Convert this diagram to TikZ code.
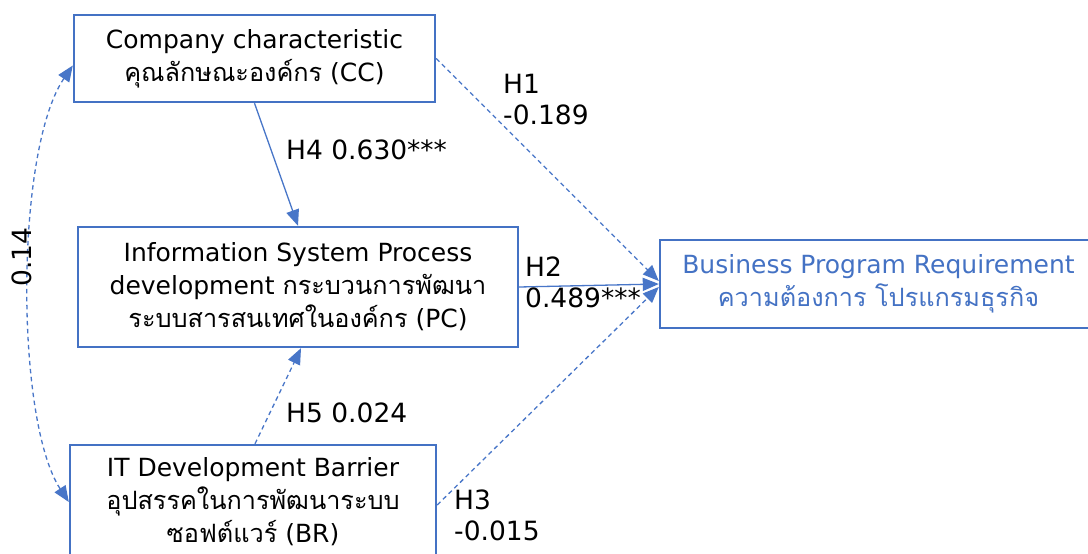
\documentclass[tikz,border=0pt]{standalone}
\usepackage{fontspec}
\setmainfont{DejaVu Sans}
\newfontfamily\thaifont[Script=Thai,Scale=1.01]{Loma}
\usetikzlibrary{arrows.meta}
\definecolor{boxblue}{RGB}{68,114,196}
\definecolor{lineblue}{RGB}{72,118,200}

\begin{document}
\begin{tikzpicture}[x=1pt,y=-1pt,
  >={Triangle[length=16pt,width=13pt]},
  construct/.style={draw=boxblue, line width=2.4pt, fill=white, inner sep=0pt,
    align=center, font=\fontsize{25}{33}\selectfont},
  link/.style={draw=lineblue, line width=1.3pt, ->},
  weak/.style={link, dash pattern=on 4.5pt off 3.5pt},
  coef/.style={inner sep=0pt, align=left, anchor=base west,
    font=\fontsize{26.5}{31}\selectfont}
]
\clip (0,0) rectangle (1088,554);
\fill[white] (0,0) rectangle (1088,554);

% constructs
\node[construct, minimum width=361pt, minimum height=87pt] (cc) at (254.5,58.5)
  {Company characteristic\\{\thaifont คุณลักษณะองค์กร} (CC)};
\node[construct, minimum width=440pt, minimum height=120pt] (pc) at (298,287)
  {Information System Process\\development {\thaifont กระบวนการพัฒนา}\\{\thaifont ระบบสารสนเทศในองค์กร} (PC)};
\node[construct, minimum width=366pt, minimum height=114pt] (br) at (253,502)
  {IT Development Barrier\\{\thaifont อุปสรรคในการพัฒนาระบบ}\\{\thaifont ซอฟต์แวร์} (BR)};
\node[construct, minimum width=437pt, minimum height=88pt, text=boxblue] (bpr) at (878.5,284)
  {Business Program Requirement\\{\thaifont ความต้องการ โปรแกรมธุรกิจ}};

% paths
\draw[link] (cc.south) -- (pc.north);
\draw[weak] ([xshift=2pt]br.north) -- ([xshift=3pt]pc.south);
\draw[weak] (cc.east) -- ([yshift=3pt]bpr.west);
\draw[link] (pc.east) -- (bpr.west);
\draw[weak] ([yshift=-3pt]br.east) -- ([yshift=-3pt]bpr.west);
\draw[weak, <->] ([yshift=-7pt]cc.west) .. controls (15,150) and (15,420) .. (br.west);

% coefficients (base anchor sits on the last line)
\node[coef] (h1) at (503,124) {H1\\-0.189};
\node[coef] (h4) at (286,159) {H4 0.630***};
\node[coef] (h2) at (525,307) {H2\\0.489***};
\node[coef] (h5) at (286,422) {H5 0.024};
\node[coef] (h3) at (454,540) {H3\\-0.015};
\node[coef, rotate=90, anchor=base] (cov) at (31,257) {0.14};
\end{tikzpicture}
\end{document}
